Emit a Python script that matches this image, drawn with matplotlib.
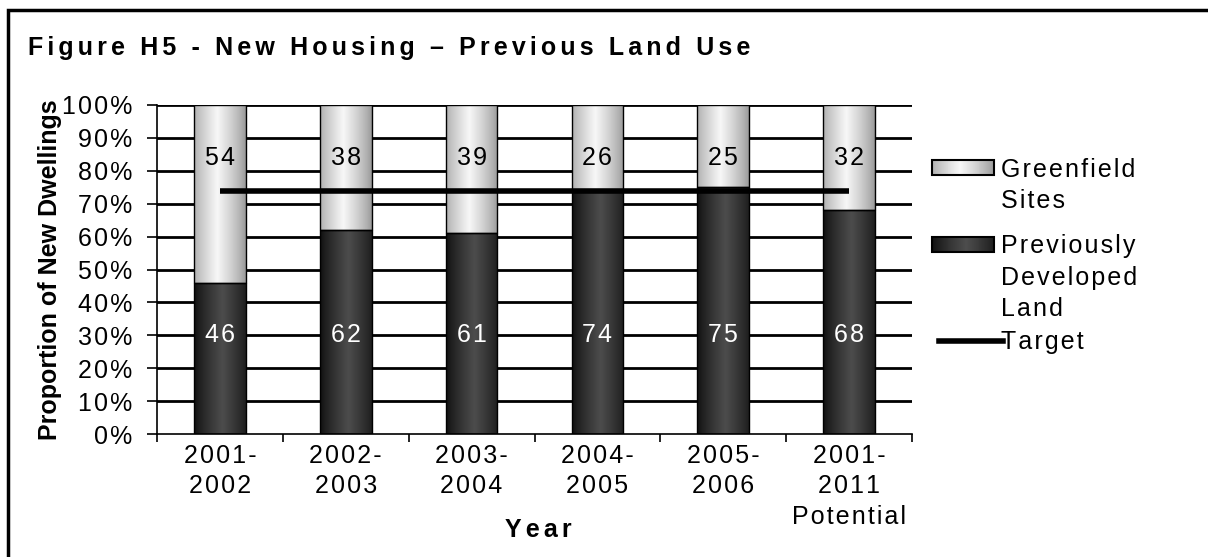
import numpy as np
import matplotlib.pyplot as plt
from matplotlib.patches import Rectangle
from matplotlib.lines import Line2D

plt.rcParams['font.family'] = ['Liberation Sans', 'DejaVu Sans']

years = ['2001-\n2002', '2002-\n2003', '2003-\n2004', '2004-\n2005', '2005-\n2006', '2001-\n2011\nPotential']
developed = [46, 62, 61, 74, 75, 68]
greenfield = [54, 38, 39, 26, 25, 32]
target = [74, 74, 74, 74, 74, 74]

W, H = 1208, 557
fig = plt.figure(figsize=(W / 100, H / 100), dpi=100)


def px(x, y):
    return x / W, 1 - y / H


# loose letter spacing: put a narrow space between characters
def sp(s, gap='\u200a'):
    return '\n'.join(gap.join(line) for line in s.split('\n'))


def wide(s):
    return sp(s, '\u2006')


# cylinder-style shading across a bar, left to right
def shade(edge, mid, peak, n=64):
    t = np.linspace(0, 1, n)
    w = np.clip(1 - np.abs(t - peak) / max(peak, 1 - peak), 0, 1) ** 0.8
    edge = np.array(edge)
    mid = np.array(mid)
    return edge[None, :] * (1 - w[:, None]) + mid[None, :] * w[:, None]


light = shade((0.60, 0.60, 0.60), (0.97, 0.97, 0.97), 0.45)
dark = shade((0.06, 0.06, 0.06), (0.30, 0.30, 0.30), 0.55)

ax = fig.add_axes([157 / W, 1 - 434 / H, (912 - 157) / W, (434 - 105) / H])
x = np.arange(len(years))
width = 0.41

b1 = ax.bar(x, developed, width, color='none', edgecolor='black', linewidth=1, zorder=3)
b2 = ax.bar(x, greenfield, width, bottom=developed, color='none', edgecolor='black', linewidth=1, zorder=3)

for bars, cols in ((b1, dark), (b2, light)):
    for p in bars:
        x0, y0 = p.get_x(), p.get_y()
        ax.imshow(cols[None, :, :], extent=[x0, x0 + p.get_width(), y0, y0 + p.get_height()],
                  aspect='auto', interpolation='bilinear', zorder=2)

ax.plot(x, target, color='black', linewidth=4, zorder=4, solid_capstyle='butt')

for i in range(len(years)):
    ax.text(x[i], 30, sp(str(developed[i])), ha='center', va='center', color='white', fontsize=18, zorder=5)
    ax.text(x[i], 84, sp(str(greenfield[i])), ha='center', va='center', color='black', fontsize=18, zorder=5)

ax.set_xlim(-0.5, len(years) - 0.5)
ax.set_ylim(0, 100)
ax.set_yticks(np.arange(0, 101, 10))
ax.set_yticklabels([sp(f'{v}%') for v in range(0, 101, 10)], fontsize=18)
ax.set_xticks(x)
ax.set_xticklabels([sp(y) for y in years], fontsize=18, linespacing=1.35, va='top')
ax.set_xticks(np.arange(-0.5, len(years)), minor=True)
ax.tick_params(axis='x', which='major', length=0, pad=7)
ax.tick_params(axis='x', which='minor', length=6, width=1.2, direction='out')
ax.tick_params(axis='y', length=7, width=1.2, pad=11)
ax.set_xlim(-0.5, len(years) - 0.5)
for v in range(10, 101, 10):
    ax.axhline(v, color='black', linewidth=2, zorder=1)
for s in ('top', 'right'):
    ax.spines[s].set_visible(False)
for s in ('left', 'bottom'):
    ax.spines[s].set_linewidth(1.2)

ax.set_ylabel('Proportion of New Dwellings', fontsize=18, fontweight='bold')
ax.yaxis.label.set_va('center')
ax.yaxis.set_label_coords(-0.142, 0.50)
ax.set_xlabel(wide('Year'), fontsize=18, fontweight='bold')
ax.xaxis.label.set_va('center')
ax.xaxis.set_label_coords(0.505, -0.292)

fig.text(*px(28, 55), wide('Figure H5 - New Housing \u2013 Previous Land Use'), fontsize=18,
         fontweight='bold', va='baseline', ha='left')

# legend
legend_rows = [
    (160, light, ['Greenfield', 'Sites'], [177, 208]),
    (237, dark, ['Previously', 'Developed', 'Land'], [253, 285, 316]),
]
for y0, cols, lines, baselines in legend_rows:
    n = cols.shape[0]
    x0, x1 = 932, 994
    step = (x1 - x0) / n
    for k in range(n):
        fx, fy = px(x0 + k * step, y0 + 15)
        fig.add_artist(Rectangle((fx, fy), (step + 0.5) / W, 15 / H, facecolor=cols[k],
                                 edgecolor='none', transform=fig.transFigure))
    fx, fy = px(x0, y0 + 15)
    fig.add_artist(Rectangle((fx, fy), (x1 - x0) / W, 15 / H, facecolor='none',
                             edgecolor='black', linewidth=1.5, transform=fig.transFigure))
    for line, yb in zip(lines, baselines):
        fig.text(*px(1001, yb), sp(line), fontsize=18, va='baseline', ha='left')

lx0, ly = px(939, 341)
lx1, _ = px(1003, 341)
fig.add_artist(Line2D([lx0, lx1], [ly, ly], color='black', linewidth=4, transform=fig.transFigure))
fig.text(*px(1001, 349), sp('Target'), fontsize=18, va='baseline', ha='left')

# outer frame
fx, fy = px(8, 600)
fig.add_artist(Rectangle((fx, fy), 1.5, (600 - 10) / H, facecolor='none', edgecolor='black',
                         linewidth=2.5, transform=fig.transFigure))

fig.savefig('out.png', dpi=100)
